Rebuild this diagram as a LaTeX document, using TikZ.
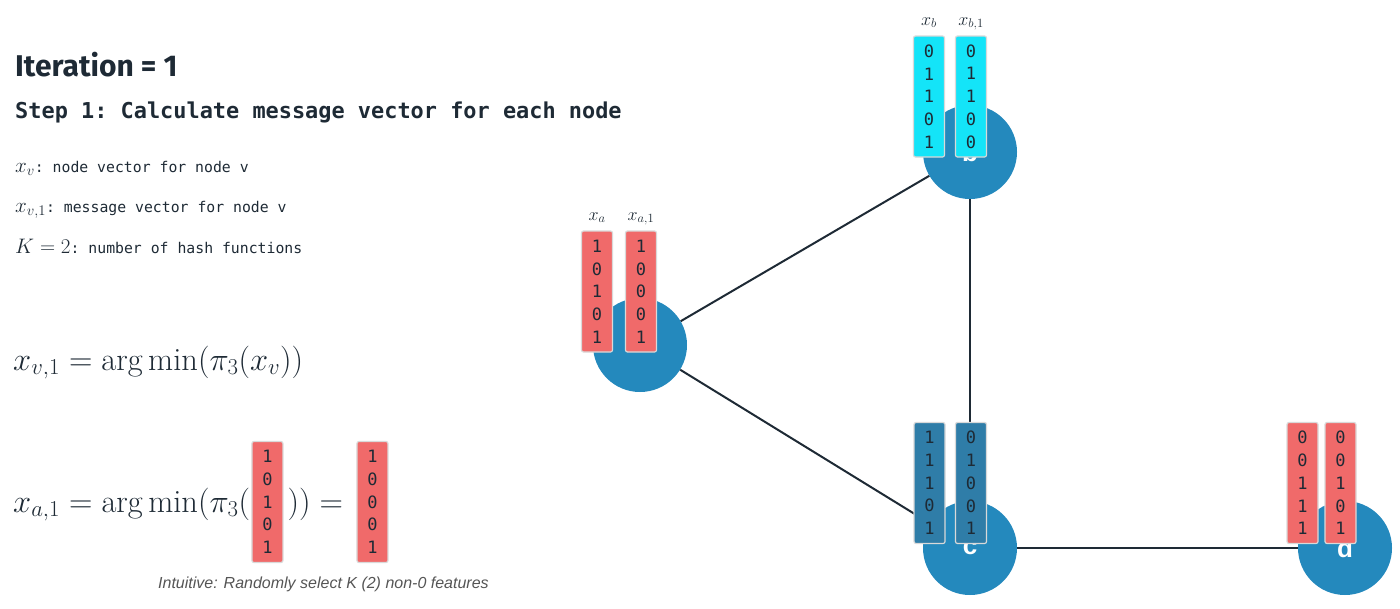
\RequirePackage{fix-cm}
\documentclass[tikz,border=0pt]{standalone}
\usepackage{fontspec}
\usepackage{amsmath}
\setmonofont{DejaVu Sans Mono}
\setsansfont{Liberation Sans}
\newfontfamily\headfont{Fira Sans}
\usetikzlibrary{positioning}

\definecolor{ink}{HTML}{1E2A35}
\definecolor{nodeblue}{HTML}{2489BD}
\definecolor{boxred}{HTML}{F06A6A}
\definecolor{boxcyan}{HTML}{14E4F8}
\definecolor{boxsteel}{HTML}{2F7DA8}
\definecolor{noteink}{HTML}{555555}

\newcommand\bitcol[5]{#1\\#2\\#3\\#4\\#5}
\newcommand\defmath[1]{{\fontsize{21}{21}\selectfont$#1$}}

\tikzset{
  vertex/.style={circle, fill=nodeblue, minimum size=94pt, inner sep=0pt, text=white, font=\sffamily\bfseries\fontsize{26}{26}\selectfont},
  edge/.style={ink, line width=2pt},
  bitbox/.style={rounded corners=2pt, draw=black!15, line width=1.2pt, minimum width=31pt, minimum height=121pt, inner sep=0pt, align=center, text=ink, font=\ttfamily\fontsize{17}{22.7}\selectfont},
  veclabel/.style={text=ink, font=\fontsize{18}{18}\selectfont, inner sep=1pt, anchor=base},
  monotext/.style={anchor=base west, text=ink, font=\ttfamily\fontsize{14.8}{17}\selectfont, inner sep=0pt},
  formula/.style={anchor=base west, text=ink, font=\fontsize{32.5}{32.5}\selectfont, inner sep=0pt}
}

\begin{document}
\begin{tikzpicture}[x=1pt, y=-1pt]
\useasboundingbox (0,0) rectangle (1400,608);

% Left text
\node[anchor=west, text=ink, inner sep=0pt, font=\headfont\bfseries\fontsize{30}{30}\selectfont] (title) at (15,65) {Iteration = 1};
\node[anchor=base west, text=ink, inner sep=0pt, font=\ttfamily\bfseries\fontsize{21.9}{24}\selectfont] (step) at (15,118) {Step 1: Calculate message vector for each node};
\node[monotext] (defxv) at (15,172) {\defmath{x_v}: node vector for node v};
\node[monotext] (defxv1) at (15,212) {\defmath{x_{v,1}}: message vector for node v};
\node[monotext] (defk) at (15,253) {\defmath{K=2}: number of hash functions};

% Formulas
\node[formula] (eqgen) at (13,370) {$x_{v,1} = \arg\min(\pi_3(x_v))$};
\node[formula] (eqa) at (13,512) {$x_{a,1} = \arg\min(\pi_3($};
\node[bitbox, fill=boxred, anchor=west] (fin) at ([xshift=1pt]eqa.east |- 0,502) {\bitcol 10101};
\node[formula] (eqend) at ([xshift=4pt]fin.east |- eqa.base) {$))=$};
\node[bitbox, fill=boxred, anchor=west] (fout) at ([xshift=13pt]eqend.east |- fin.west) {\bitcol 10001};
\node[anchor=base west, inner sep=0pt, text=noteink, font=\sffamily\itshape\fontsize{16}{16}\selectfont] (note) at (158,588) {Intuitive: Randomly select K (2) non-0 features};

% Graph nodes
\foreach \n/\x/\y in {a/640/345, b/970/152, c/970/548, d/1345/548} {
    \node[vertex] (\n) at (\x,\y) {\n};
}

% Edges
\draw[edge] (a) -- (b);
\draw[edge] (a) -- (c);
\draw[edge] (b) -- (c);
\draw[edge] (c) -- (d);

% Vectors
\foreach \name/\x/\y/\col/\bits in {xa/597/291.5/boxred/10101, xa1/641/291.5/boxred/10001,
    xb/929/96.5/boxcyan/01101, xb1/971/96.5/boxcyan/01100,
    xc/929.5/483/boxsteel/11101, xc1/971/483/boxsteel/01001,
    xd/1302.5/483/boxred/00111, xd1/1340.5/483/boxred/00101} {
    \node[bitbox, fill=\col] (\name) at (\x,\y) {\expandafter\bitcol\bits};
}

% Vector labels
\node[veclabel] at (597,220) {$x_a$};
\node[veclabel] at (641,220) {$x_{a,1}$};
\node[veclabel] at (929,25) {$x_b$};
\node[veclabel] at (971,25) {$x_{b,1}$};
\end{tikzpicture}
\end{document}
